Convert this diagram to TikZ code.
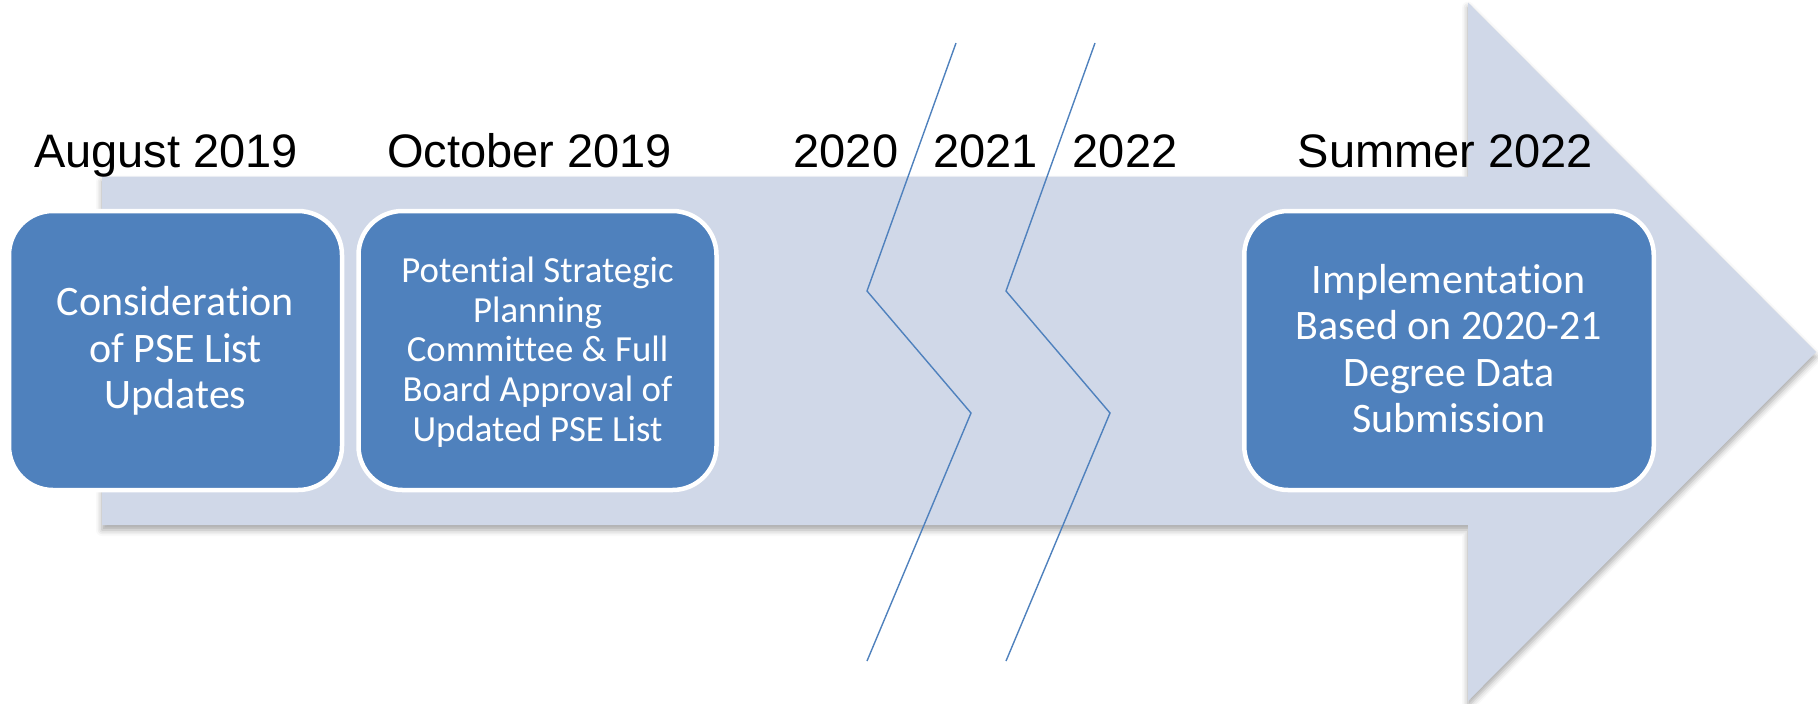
\documentclass[tikz,border=0pt]{standalone}
\usepackage{fontspec}
\setmainfont{Carlito}[Ligatures={NoCommon}]
\newfontfamily\labelfont{Liberation Sans}
\usetikzlibrary{shadows.blur}
\definecolor{arrowfill}{HTML}{D0D8E8}
\definecolor{boxfill}{HTML}{4F81BD}
\definecolor{zigline}{HTML}{4F81BD}
\pgfdeclarelayer{back}
\pgfdeclarelayer{mid}
\pgfsetlayers{back,mid,main}
\tikzset{
  eventbox/.style={draw=white, line width=2.25pt, fill=boxfill, rounded corners=22pt,
    minimum height=139.5pt, inner sep=0pt},
  bigtext/.style={text=white, align=center, inner sep=0pt,
    font=\fontsize{21}{23.3}\selectfont},
  smalltext/.style={text=white, align=center, inner sep=0pt,
    font=\fontsize{18.4}{19.9}\selectfont},
  datelabel/.style={anchor=base, inner sep=0pt, font=\labelfont\fontsize{23.5}{28}\selectfont},
  zig/.style={draw=zigline, line width=0.7pt},
  softshadow/.style={blur shadow={shadow xshift=0pt, shadow yshift=-2.5pt,
    shadow blur radius=3pt, shadow opacity=35}},
}
\begin{document}
\begin{tikzpicture}[x=0.5pt, y=-0.5pt]
\useasboundingbox (0,0) rectangle (1818,703);

% boxes
\node[eventbox, minimum width=166.5pt] (b1) at (175.5,350.5) {};
\node[eventbox, minimum width=179pt] (b2) at (537.5,350.5) {};
\node[eventbox, minimum width=204.75pt] (b3) at (1449,350.5) {};

% box shadows (behind the arrow)
\begin{pgfonlayer}{back}
  \path[softshadow, rounded corners=22pt] (b1.south west) rectangle (b1.north east);
  \path[softshadow, rounded corners=22pt] (b2.south west) rectangle (b2.north east);
  \path[softshadow, rounded corners=22pt] (b3.south west) rectangle (b3.north east);
\end{pgfonlayer}

% big arrow
\begin{pgfonlayer}{mid}
  \fill[arrowfill, softshadow] (102,176.5) -- (1468,176.5) -- (1468,2.5) -- (1816,352)
    -- (1468,701) -- (1468,525) -- (102,525) -- cycle;
\end{pgfonlayer}

% box texts
\node[bigtext] (t1) at (175.5,351) {Consideration\\of PSE List\\Updates};
\node[smalltext] (t2) at (537.5,352) {Potential Strategic\\Planning\\Committee \& Full\\Board Approval of\\Updated PSE List};
\node[bigtext] (t3) at (1449,348.5) {Implementation\\Based on 2020-21\\Degree Data\\Submission};

% date labels
\node[datelabel] (l1) at (166,167) {August 2019};
\node[datelabel] (l2) at (529.5,167) {October 2019};
\node[datelabel] (l3) at (846,167) {2020};
\node[datelabel] (l4) at (985.5,167) {2021};
\node[datelabel] (l5) at (1125,167) {2022};
\node[datelabel] (l6) at (1445.5,167) {Summer 2022};

% break lines
\draw[zig] (956,43) -- (867,291) -- (971,413) -- (867,661);
\draw[zig] (1095,43) -- (1006,291) -- (1110,413) -- (1006,661);
\end{tikzpicture}
\end{document}
